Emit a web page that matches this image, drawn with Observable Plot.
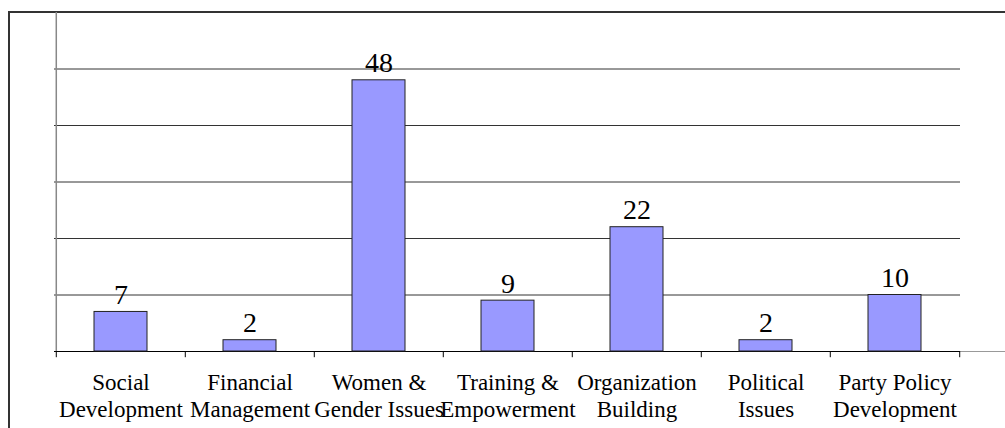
<!DOCTYPE html>
<html>
<head>
<meta charset="utf-8">
<script src="https://cdn.jsdelivr.net/npm/d3@7"></script>
<script src="https://cdn.jsdelivr.net/npm/@observablehq/plot@0.6"></script>
<style>
  html, body { margin: 0; padding: 0; background: #fff; }
  #wrap { position: relative; width: 1005px; height: 428px; overflow: hidden; }
  #frame { position: absolute; left: 8px; top: 11px; right: -10px; bottom: -10px; border-left: 2px solid #333; border-top: 2px solid #333; }
  #ext { position: absolute; left: 960px; top: 351px; width: 45px; height: 1px; background: #999; }
  #wrap svg { position: absolute; left: 0; top: 0; }
</style>
</head>
<body>
<div id="wrap"><div id="frame"></div><div id="ext"></div></div>
<script>
const categories = ["Social Development", "Financial Management", "Women & Gender Issues", "Training & Empowerment", "Organization Building", "Political Issues", "Party Policy Development"];
const tickLabels = ["Social\nDevelopment", "Financial\nManagement", "Women &\nGender Issues", "Training &\nEmpowerment", "Organization\nBuilding", "Political\nIssues", "Party Policy\nDevelopment"];
const values = [7, 2, 48, 9, 22, 2, 10];
const gridValues = [10, 20, 30, 40, 50];

const data = categories.map((c, i) => ({cat: c, value: values[i], label: tickLabels[i]}));

const W = 1005, H = 428, mL = 54, mR = 45, mT = 12, mB = 77;
const bw = (W - mL - mR) / categories.length;
const serif = "Liberation Serif, Tinos, Times New Roman, Times, DejaVu Serif, serif";

const chart = Plot.plot({
  width: W,
  height: H,
  marginLeft: mL,
  marginRight: mR,
  marginTop: mT,
  marginBottom: mB,
  style: {background: "transparent", overflow: "visible", color: "#000"},
  x: {domain: categories, padding: 0, axis: null},
  y: {domain: [0, 60], axis: null},
  marks: [
    Plot.gridY(gridValues, {stroke: "#333", strokeOpacity: 1, strokeWidth: 1}),
    Plot.ruleX([categories[0]], {dx: -bw / 2, y1: 0, y2: 60, stroke: "#888", strokeWidth: 1.5}),
    Plot.ruleX(categories, {x: d => d, dx: -bw / 2, y1: 0, y2: -1.1, stroke: "#000"}),
    Plot.ruleX([categories[categories.length - 1]], {x: d => d, dx: bw / 2, y1: 0, y2: -1.1, stroke: "#000"}),
    Plot.ruleY([0], {stroke: "#000", strokeWidth: 1}),
    Plot.barY(data, {x: "cat", y: "value", fill: "#9999ff", stroke: "#222", strokeWidth: 1, insetLeft: 38, insetRight: 38}),
    Plot.text(data, {x: "cat", y: "value", text: d => String(d.value), lineAnchor: "bottom", dy: -8, fontSize: 28, fill: "#000"}),
    Plot.text(data, {x: "cat", y: 0, text: "label", lineAnchor: "top", dy: 20, fontSize: 23, lineHeight: 1.16, fill: "#000"})
  ]
});
chart.querySelectorAll("text").forEach(t => t.style.fontFamily = serif);
chart.querySelectorAll("g[aria-label=text]").forEach(g => g.style.fontFamily = serif);
document.getElementById("wrap").appendChild(chart);
</script>
</body>
</html>
